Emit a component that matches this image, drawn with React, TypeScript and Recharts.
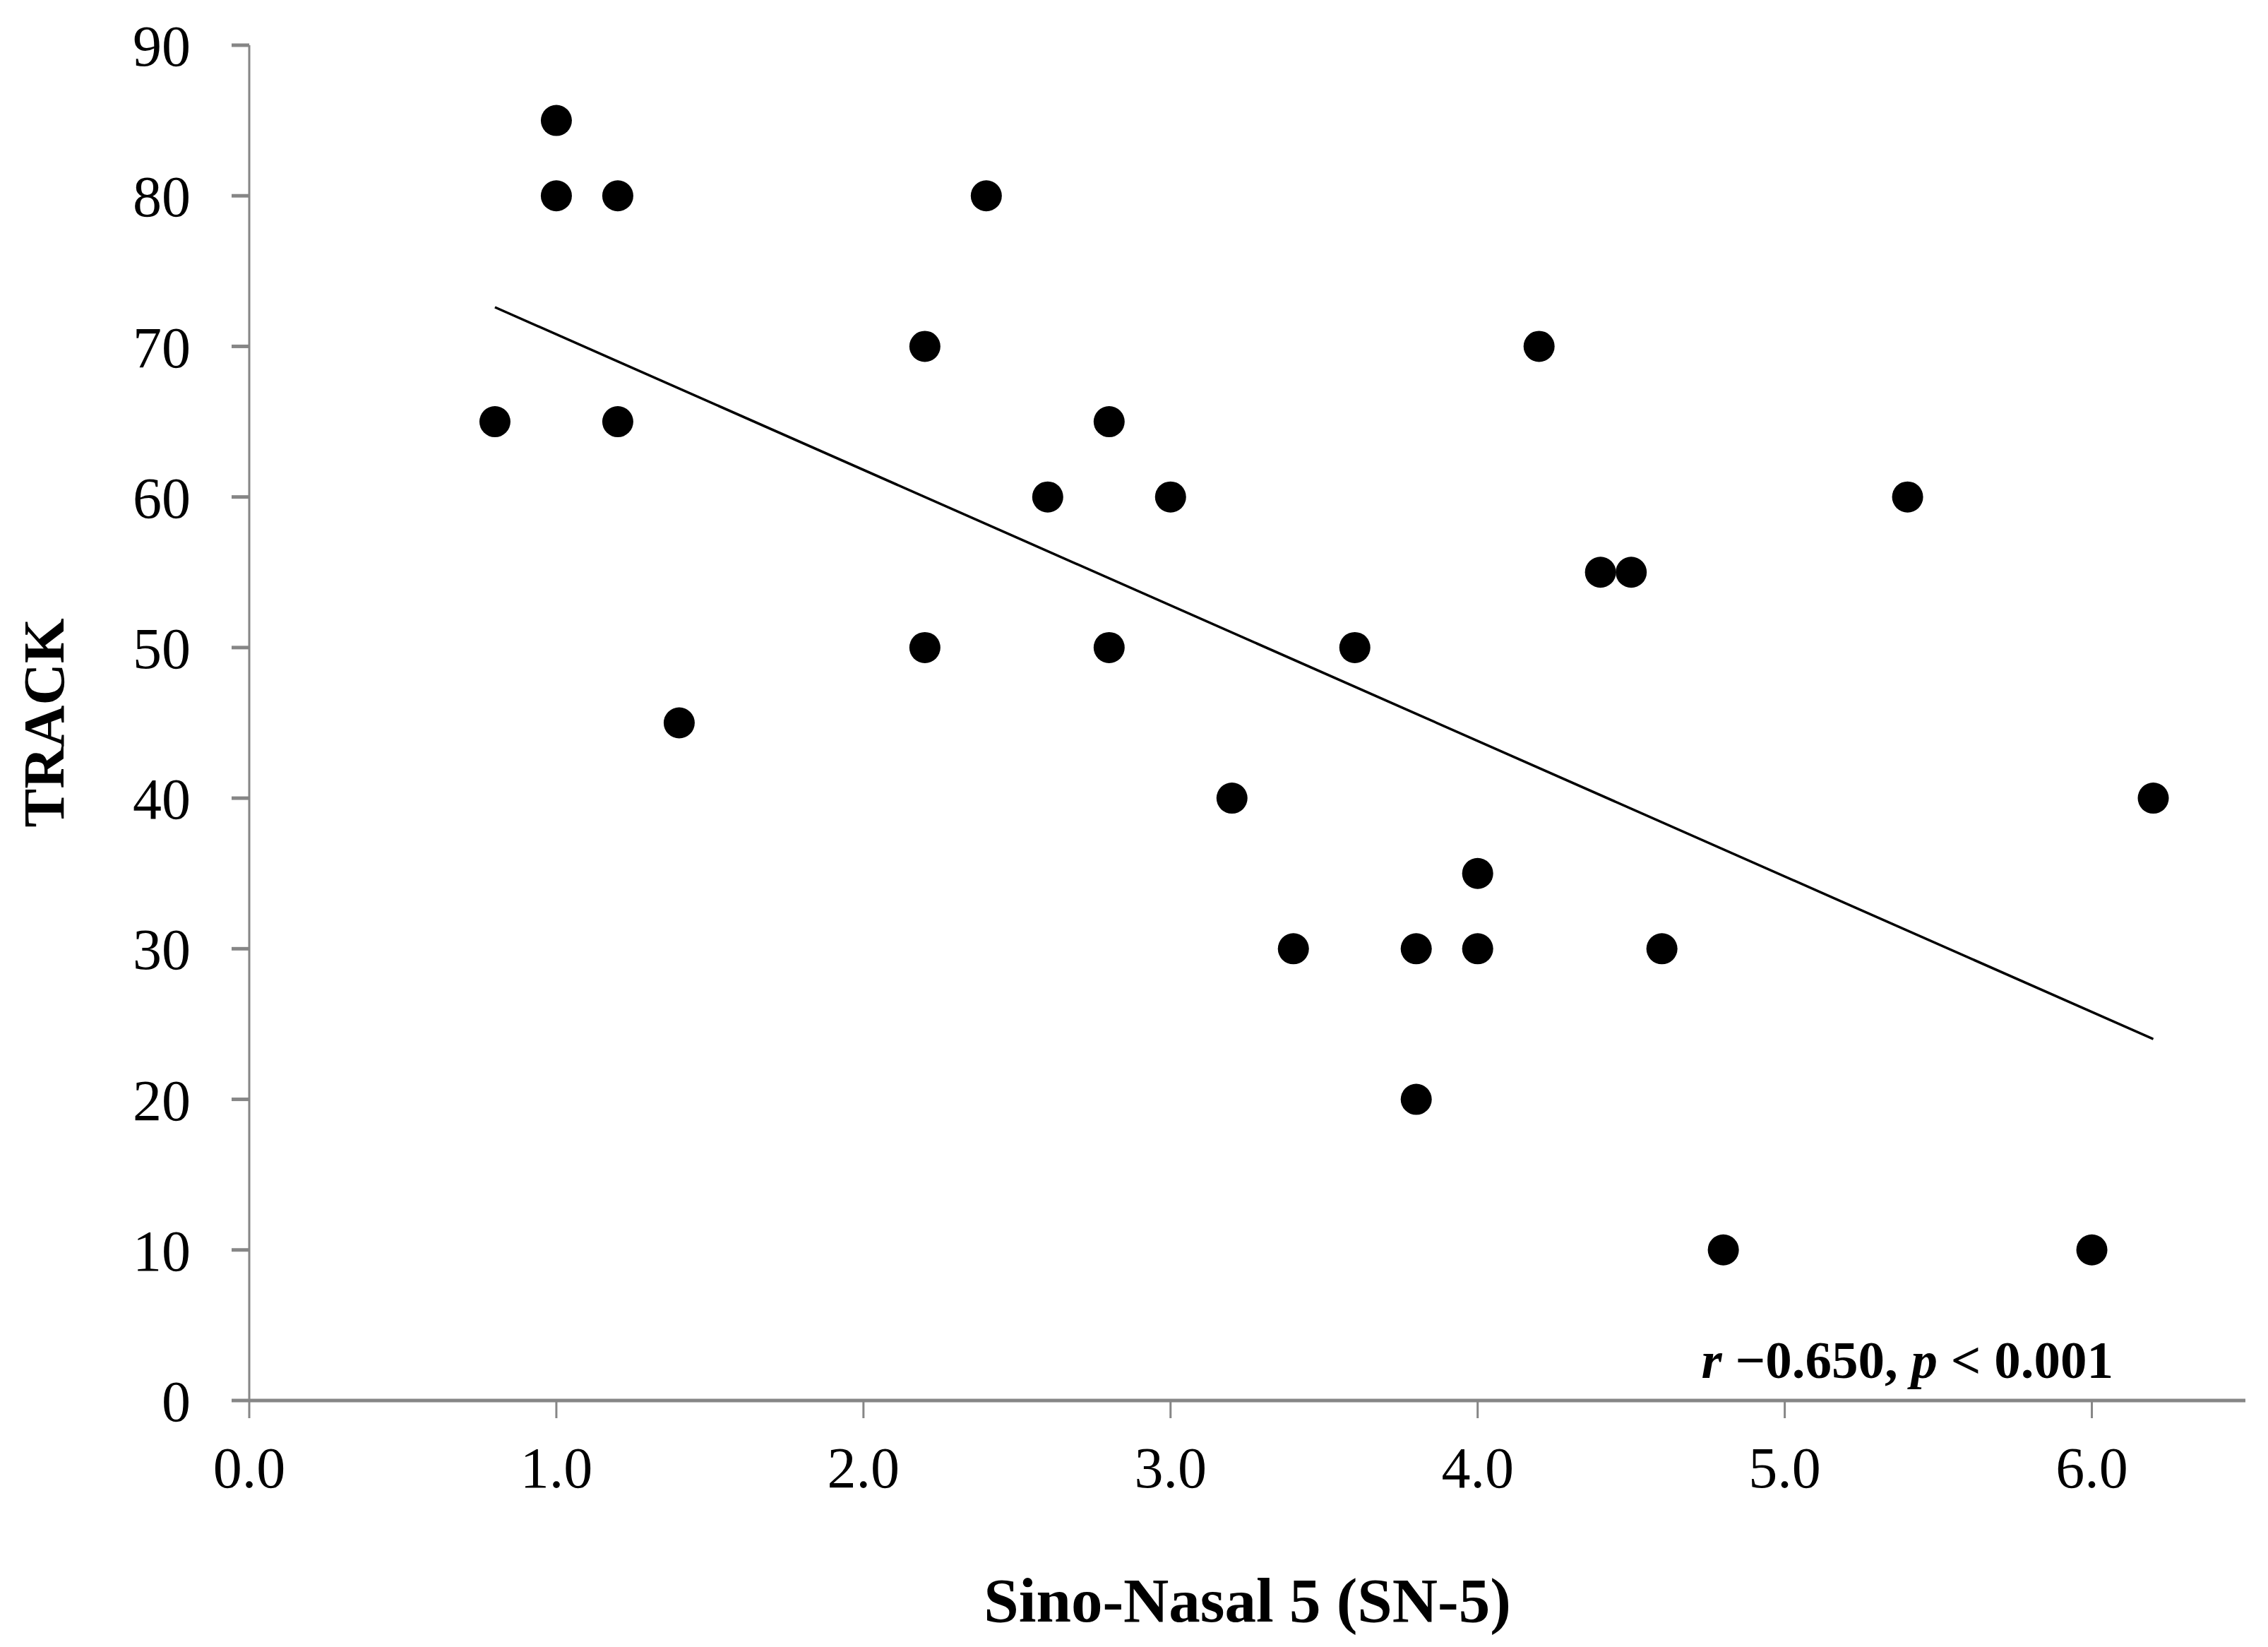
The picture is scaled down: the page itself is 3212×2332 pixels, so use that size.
import {
  ScatterChart,
  Scatter,
  XAxis,
  YAxis,
  ReferenceLine,
  ReferenceDot,
  Label,
} from "recharts";

const SN5 = [
  0.8, 1.0, 1.0, 1.2, 1.2, 1.4, 2.2, 2.2, 2.4, 2.6, 2.8, 2.8, 3.0, 3.2,
  3.4, 3.6, 3.8, 3.8, 4.0, 4.0, 4.2, 4.4, 4.5, 4.6, 4.8, 5.4, 6.0, 6.2,
];
const TRACK = [
  65, 85, 80, 80, 65, 45, 70, 50, 80, 60, 65, 50, 60, 40,
  30, 50, 30, 20, 35, 30, 70, 55, 55, 30, 10, 60, 10, 40,
];
const TREND_X = [0.8, 6.2];
const TREND_Y = [72.6, 24.0];
const X_TICKS = [0, 1, 2, 3, 4, 5, 6];
const Y_TICKS = [0, 10, 20, 30, 40, 50, 60, 70, 80, 90];

const points = SN5.map((x, i) => ({ x, y: TRACK[i] }));

const FONT = "'Liberation Serif', 'Times New Roman', serif";
const AXIS = "#868686";

const Dot = (props: any) => <circle cx={props.cx} cy={props.cy} r={22} fill="#000" />;

const StatLabel = (props: any) => {
  const { viewBox } = props;
  return (
    <text
      x={viewBox.x}
      y={viewBox.y}
      textAnchor="end"
      fontFamily={FONT}
      fontWeight={700}
      fontSize={75}
      fill="#000"
    >
      <tspan fontStyle="italic">r</tspan>
      <tspan> −0.650, </tspan>
      <tspan fontStyle="italic">p</tspan>
      <tspan> &lt; 0.001</tspan>
    </text>
  );
};

const YTitle = (props: any) => {
  const { viewBox } = props;
  const cx = 62;
  const cy = viewBox.y + viewBox.height / 2;
  return (
    <text
      x={cx}
      y={cy}
      transform={`rotate(-90 ${cx} ${cy})`}
      textAnchor="middle"
      dominantBaseline="central"
      fontFamily={FONT}
      fontWeight={700}
      fontSize={82}
      fill="#000"
    >
      TRACK
    </text>
  );
};

export default function App() {
  return (
    <div style={{ position: "absolute", left: 0, top: 0, width: 3212, height: 2332, background: "#fff" }}>
      <ScatterChart
        width={3212}
        height={2332}
        margin={{ top: 64, right: 32, left: 0, bottom: 0 }}
      >
        <XAxis
          type="number"
          dataKey="x"
          domain={[0, 6.5]}
          ticks={X_TICKS}
          tickFormatter={(v) => Number(v).toFixed(1)}
          height={349}
          stroke={AXIS}
          axisLine={{ stroke: AXIS, strokeWidth: 5 }}
          tickLine={{ stroke: AXIS, strokeWidth: 3 }}
          tickSize={25}
          tickMargin={40}
          tick={{ fill: "#000", fontFamily: FONT, fontSize: 82 }}
        >
          <Label
            value="Sino-Nasal 5 (SN-5)"
            position="insideBottom"
            offset={36}
            fill="#000"
            fontFamily={FONT}
            fontWeight={700}
            fontSize={89}
          />
        </XAxis>
        <YAxis
          type="number"
          dataKey="y"
          domain={[0, 90]}
          ticks={Y_TICKS}
          width={353}
          stroke={AXIS}
          axisLine={{ stroke: AXIS, strokeWidth: 3 }}
          tickLine={{ stroke: AXIS, strokeWidth: 5 }}
          tickSize={25}
          tickMargin={58}
          tick={{ fill: "#000", fontFamily: FONT, fontSize: 82 }}
        >
          <Label content={<YTitle />} />
        </YAxis>
        <ReferenceLine
          segment={[
            { x: TREND_X[0], y: TREND_Y[0] },
            { x: TREND_X[1], y: TREND_Y[1] },
          ]}
          stroke="#000"
          strokeWidth={3.5}
          ifOverflow="visible"
        />
        <Scatter data={points} shape={Dot} isAnimationActive={false} />
        <ReferenceDot
          x={6.07}
          y={1.5}
          r={0}
          fill="none"
          stroke="none"
          ifOverflow="visible"
          label={<StatLabel />}
        />
      </ScatterChart>
    </div>
  );
}
